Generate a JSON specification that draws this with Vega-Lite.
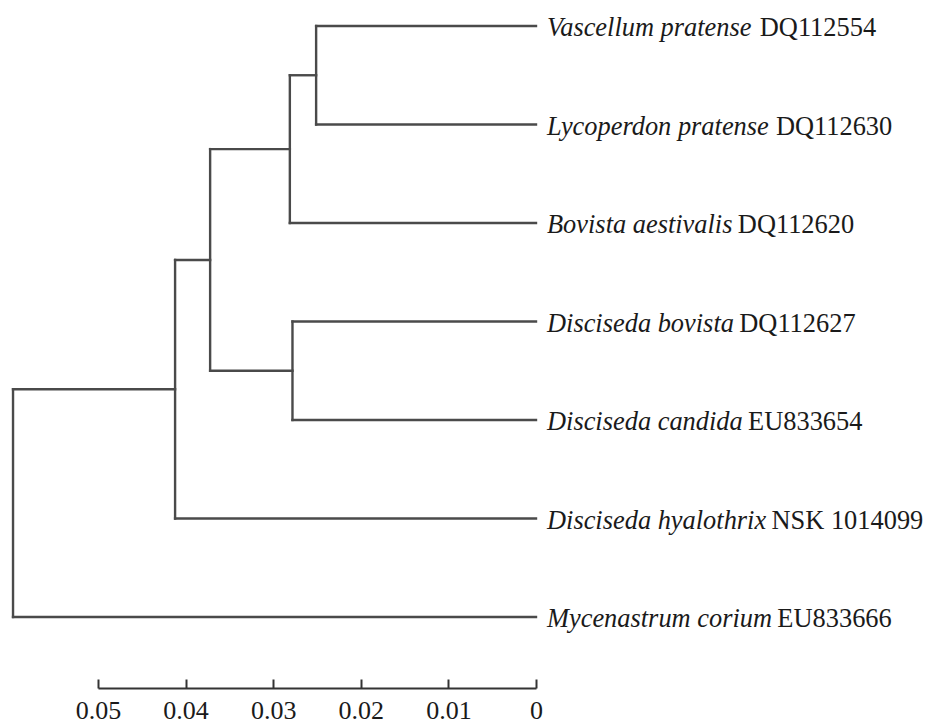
{
  "$schema": "https://vega.github.io/schema/vega-lite/v6.json",
  "width": 438,
  "height": 591,
  "autosize": {"type": "none"},
  "padding": {"left": 98, "top": 26, "right": 397, "bottom": 107},
  "background": "white",
  "config": {"view": {"stroke": null}},
  "datasets": {
    "branches": [
      {"x": 0.0251, "x2": 0, "y": 0, "y2": 0},
      {"x": 0.0251, "x2": 0, "y": 1, "y2": 1},
      {"x": 0.0281, "x2": 0, "y": 2, "y2": 2},
      {"x": 0.0278, "x2": 0, "y": 3, "y2": 3},
      {"x": 0.0278, "x2": 0, "y": 4, "y2": 4},
      {"x": 0.0412, "x2": 0, "y": 5, "y2": 5},
      {"x": 0.0597, "x2": 0, "y": 6, "y2": 6},
      {"x": 0.0281, "x2": 0.0251, "y": 0.5, "y2": 0.5},
      {"x": 0.0372, "x2": 0.0281, "y": 1.25, "y2": 1.25},
      {"x": 0.0372, "x2": 0.0278, "y": 3.5, "y2": 3.5},
      {"x": 0.0412, "x2": 0.0372, "y": 2.375, "y2": 2.375},
      {"x": 0.0597, "x2": 0.0412, "y": 3.6875, "y2": 3.6875},
      {"x": 0.0251, "x2": 0.0251, "y": 0, "y2": 1},
      {"x": 0.0281, "x2": 0.0281, "y": 0.5, "y2": 2},
      {"x": 0.0278, "x2": 0.0278, "y": 3, "y2": 4},
      {"x": 0.0372, "x2": 0.0372, "y": 1.25, "y2": 3.5},
      {"x": 0.0412, "x2": 0.0412, "y": 2.375, "y2": 5},
      {"x": 0.0597, "x2": 0.0597, "y": 3.6875, "y2": 6}
    ],
    "leaves": [
      {"name": "Vascellum pratense", "acc": "DQ112554", "x": 0, "y": 0},
      {"name": "Lycoperdon pratense", "acc": "DQ112630", "x": 0, "y": 1},
      {"name": "Bovista aestivalis", "acc": "DQ112620", "x": 0, "y": 2},
      {"name": "Disciseda bovista", "acc": "DQ112627", "x": 0, "y": 3},
      {"name": "Disciseda candida", "acc": "EU833654", "x": 0, "y": 4},
      {"name": "Disciseda hyalothrix", "acc": "NSK 1014099", "x": 0, "y": 5},
      {"name": "Mycenastrum corium", "acc": "EU833666", "x": 0, "y": 6}
    ]
  },
  "layer": [
    {
      "data": {"name": "branches"},
      "mark": {"type": "rule", "stroke": "#4a4a4a", "strokeWidth": 2.4, "strokeCap": "square"},
      "encoding": {
        "x": {
          "field": "x",
          "type": "quantitative",
          "scale": {"domain": [0, 0.05], "reverse": true, "nice": false, "zero": false},
          "axis": {
            "values": [0.05, 0.04, 0.03, 0.02, 0.01, 0],
            "labelExpr": "datum.value == 0 ? '0' : format(datum.value, '.2f')",
            "title": null,
            "grid": false,
            "offset": 71,
            "tickSize": -9,
            "tickWidth": 2,
            "tickColor": "#333333",
            "domainColor": "#333333",
            "domainWidth": 2,
            "labelPadding": 18,
            "labelFont": "Liberation Serif",
            "labelFontSize": 26,
            "labelColor": "#1a1a1a",
            "labelBaseline": "top",
            "labelFlush": false,
            "labelOverlap": false
          }
        },
        "x2": {"field": "x2"},
        "y": {
          "field": "y",
          "type": "quantitative",
          "scale": {"domain": [0, 6], "reverse": true, "nice": false, "zero": false},
          "axis": null
        },
        "y2": {"field": "y2"}
      }
    },
    {
      "data": {"name": "leaves"},
      "mark": {"type": "text", "font": "Liberation Serif", "fontSize": 26.4, "fontStyle": "italic", "align": "left", "baseline": "alphabetic", "dx": 11, "dy": 10, "color": "#1a1a1a"},
      "encoding": {
        "x": {"field": "x", "type": "quantitative"},
        "y": {"field": "y", "type": "quantitative"},
        "text": {"field": "name"}
      }
    },
    {
      "data": {"name": "leaves"},
      "transform": [
        {"calculate": "(250*(length(datum.name)-length(replace(datum.name,regexp(' ','g'),''))) + 278*(length(datum.name)-length(replace(datum.name,regexp('[fijlt]','g'),''))) + 389*(length(datum.name)-length(replace(datum.name,regexp('[rsz]','g'),''))) + 444*(length(datum.name)-length(replace(datum.name,regexp('[cekvxy]','g'),''))) + 500*(length(datum.name)-length(replace(datum.name,regexp('[abdghnopqu]','g'),''))) + 667*(length(datum.name)-length(replace(datum.name,regexp('[w]','g'),''))) + 722*(length(datum.name)-length(replace(datum.name,regexp('[mD]','g'),''))) + 611*(length(datum.name)-length(replace(datum.name,regexp('[VB]','g'),''))) + 556*(length(datum.name)-length(replace(datum.name,regexp('[L]','g'),''))) + 833*(length(datum.name)-length(replace(datum.name,regexp('[M]','g'),''))))/1000", "as": "nameEm"},
        {"calculate": "datum.x - (datum.nameEm + 0.2) * 26.4 / 8760", "as": "accX"}
      ],
      "mark": {"type": "text", "font": "Liberation Serif", "fontSize": 26.4, "fontStyle": "normal", "align": "left", "baseline": "alphabetic", "dx": 11, "dy": 10, "color": "#1a1a1a"},
      "encoding": {
        "x": {"field": "accX", "type": "quantitative"},
        "y": {"field": "y", "type": "quantitative"},
        "text": {"field": "acc"}
      }
    }
  ]
}
